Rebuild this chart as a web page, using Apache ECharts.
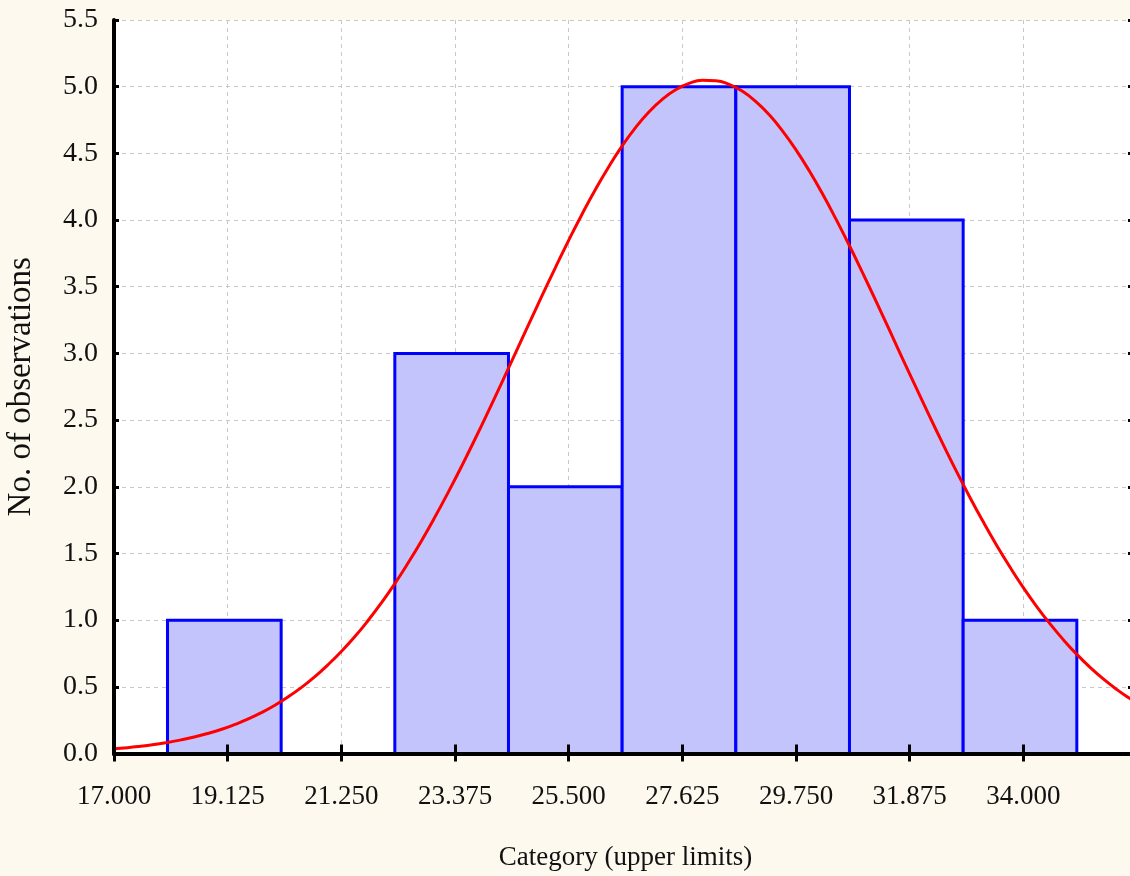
<!DOCTYPE html>
<html>
<head>
<meta charset="utf-8">
<script src="https://cdn.jsdelivr.net/npm/echarts@6/dist/echarts.min.js"></script>
<style>
  html, body { margin: 0; padding: 0; background: #fdf9ef; }
  #chart { width: 1130px; height: 876px; }
</style>
</head>
<body>
<div id="chart"></div>
<script>
// Histogram bins (lower / upper edges) and counts
const binLower = [18.0, 20.125, 22.25, 24.375, 26.5, 28.625, 30.75, 32.875];
const binUpper = [20.125, 22.25, 24.375, 26.5, 28.625, 30.75, 32.875, 35.0];
const counts   = [1, 0, 3, 2, 5, 5, 4, 1];

// Fitted normal curve
const curveX = [17, 17.25, 17.5, 17.75, 18, 18.25, 18.5, 18.75, 19, 19.25, 19.5, 19.75, 20, 20.25, 20.5, 20.75,
  21, 21.25, 21.5, 21.75, 22, 22.25, 22.5, 22.75, 23, 23.25, 23.5, 23.75, 24, 24.25, 24.5, 24.75,
  25, 25.25, 25.5, 25.75, 26, 26.25, 26.5, 26.75, 27, 27.25, 27.5, 27.75, 28, 28.25, 28.5, 28.75,
  29, 29.25, 29.5, 29.75, 30, 30.25, 30.5, 30.75, 31, 31.25, 31.5, 31.75, 32, 32.25, 32.5, 32.75,
  33, 33.25, 33.5, 33.75, 34, 34.25, 34.5, 34.75, 35, 35.25, 35.5, 35.75, 36, 36.125];
const curveY = [0.036, 0.044, 0.055, 0.068, 0.083, 0.102, 0.124, 0.150, 0.180, 0.216, 0.257, 0.305, 0.360, 0.423, 0.494, 0.574,
  0.665, 0.765, 0.875, 0.997, 1.130, 1.274, 1.430, 1.596, 1.773, 1.960, 2.155, 2.358, 2.567, 2.781, 2.998, 3.215,
  3.431, 3.642, 3.848, 4.044, 4.229, 4.400, 4.556, 4.693, 4.810, 4.905, 4.977, 5.025, 5.048, 5.045, 5.018, 4.965,
  4.888, 4.789, 4.667, 4.526, 4.367, 4.193, 4.005, 3.807, 3.600, 3.388, 3.172, 2.954, 2.739, 2.526, 2.318, 2.115,
  1.922, 1.737, 1.562, 1.398, 1.244, 1.102, 0.972, 0.852, 0.743, 0.645, 0.557, 0.479, 0.410, 0.378];

// Axis settings
const xMin = 17, xMax = 36.125, xStep = 2.125;
const yMin = 0, yMax = 5.5, yStep = 0.5;
const xTitle = 'Category (upper limits)';
const yTitle = 'No. of observations';

const barData = binLower.map((lo, i) => [lo, binUpper[i], counts[i]]);
const curveData = curveX.map((x, i) => [x, curveY[i]]);

const FONT = '"Liberation Serif", "Times New Roman", serif';
const chart = echarts.init(document.getElementById('chart'), null, { renderer: 'canvas' });

const option = {
  backgroundColor: '#fdf9ef',
  animation: false,
  grid: {
    left: 114, top: 20, width: 1023, bottom: 122.5,
    outerBoundsMode: 'none', containLabel: false,
    show: true, backgroundColor: '#ffffff', borderWidth: 0
  },
  xAxis: [
    {
      type: 'value', position: 'bottom', min: xMin, max: xMax, interval: xStep, z: 10,
      name: xTitle, nameLocation: 'middle', nameGap: 91,
      nameTextStyle: { fontFamily: FONT, fontSize: 27, color: '#111' },
      axisLine: { show: true, lineStyle: { color: '#000', width: 4 } },
      axisTick: { show: true, inside: true, length: 9, lineStyle: { color: '#000', width: 3 } },
      axisLabel: {
        margin: 30, fontFamily: FONT, fontSize: 27, color: '#111', showMaxLabel: false,
        formatter: v => v.toFixed(3)
      },
      splitLine: { show: false }
    },
    {
      type: 'value', position: 'top', min: xMin, max: xMax, interval: xStep,
      axisLine: { show: true, lineStyle: { color: '#000', width: 4 } },
      axisTick: { show: true, inside: true, length: 8, lineStyle: { color: '#000', width: 3 } },
      axisLabel: { show: false },
      splitLine: { show: true, lineStyle: { color: '#c8c8c8', width: 1, type: [4, 4] } }
    }
  ],
  yAxis: [
    {
      type: 'value', position: 'left', min: yMin, max: yMax, interval: yStep,
      name: yTitle, nameLocation: 'middle', nameGap: 76,
      nameTextStyle: { fontFamily: FONT, fontSize: 33, color: '#111' },
      axisLine: { show: true, lineStyle: { color: '#000', width: 4 } },
      axisTick: { show: true, inside: true, length: 5, lineStyle: { color: '#000', width: 3 } },
      axisLabel: {
        margin: 16, fontFamily: FONT, fontSize: 28, color: '#111',
        formatter: v => v.toFixed(1)
      },
      splitLine: { show: true, lineStyle: { color: '#c8c8c8', width: 1, type: [4, 4] } }
    },
    {
      type: 'value', position: 'right', min: yMin, max: yMax, interval: yStep,
      axisLine: { show: true, lineStyle: { color: '#000', width: 4 } },
      axisTick: { show: true, inside: true, length: 9, lineStyle: { color: '#000', width: 3 } },
      axisLabel: { show: false },
      splitLine: { show: false }
    }
  ],
  series: [
    {
      type: 'custom',
      xAxisIndex: 0, yAxisIndex: 0,
      data: barData,
      encode: { x: [0, 1], y: 2 },
      renderItem: function (params, api) {
        const lo = api.value(0), hi = api.value(1), c = api.value(2);
        if (!c) return null;
        const p0 = api.coord([lo, c]);
        const p1 = api.coord([hi, 0]);
        return {
          type: 'rect',
          shape: { x: p0[0], y: p0[1], width: p1[0] - p0[0], height: p1[1] - p0[1] },
          style: { fill: '#c4c4fc', stroke: '#0000ff', lineWidth: 3 }
        };
      },
      z: 2
    },
    {
      type: 'line',
      xAxisIndex: 0, yAxisIndex: 0,
      data: curveData,
      smooth: true,
      showSymbol: false,
      lineStyle: { color: '#ff0000', width: 3 },
      z: 3
    }
  ]
};
chart.setOption(option);
</script>
</body>
</html>
